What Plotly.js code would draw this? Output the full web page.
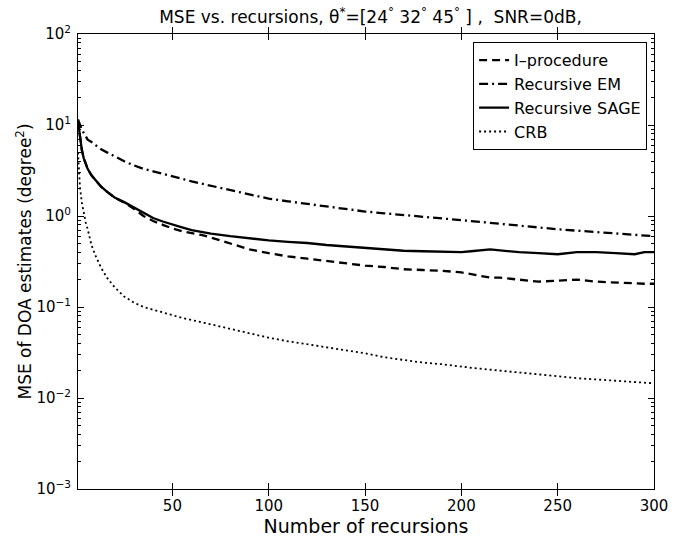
<!DOCTYPE html>
<html>
<head>
<meta charset="utf-8">
<script src="https://cdn.plot.ly/plotly-3.0.1.min.js"></script>
<style>html,body{margin:0;padding:0;background:#fff;}#chart{width:690px;height:538px;}</style>
</head>
<body>
<div id="chart"></div>
<script>
const recursions = [1,2,3,4,5,6,8,10,13,16,20,25,30,35,40,45,50,55,60,65,70,80,90,100,110,120,130,140,150,160,170,180,190,200,205,210,215,220,225,230,240,250,260,270,280,290,295,300];
const iProcedure = [11,7.0,5.3,4.3,3.7,3.3,2.8,2.5,2.1,1.85,1.6,1.4,1.2,1.0,0.88,0.8,0.73,0.68,0.65,0.62,0.58,0.5,0.43,0.39,0.36,0.34,0.32,0.30,0.285,0.275,0.26,0.255,0.25,0.24,0.23,0.22,0.21,0.21,0.205,0.2,0.19,0.195,0.2,0.19,0.185,0.18,0.18,0.18];
const recursiveEM = [11.5,9.8,8.9,8.2,7.4,6.9,6.5,6.0,5.4,5.0,4.5,4.0,3.6,3.3,3.1,2.9,2.72,2.55,2.4,2.27,2.15,1.95,1.72,1.55,1.45,1.36,1.27,1.18,1.12,1.07,1.02,0.98,0.94,0.9,0.88,0.86,0.84,0.82,0.80,0.78,0.74,0.715,0.69,0.665,0.64,0.62,0.61,0.6];
const recursiveSAGE = [11,7.0,5.3,4.3,3.7,3.3,2.8,2.5,2.1,1.85,1.6,1.42,1.25,1.08,0.95,0.87,0.8,0.75,0.7,0.67,0.64,0.6,0.565,0.54,0.52,0.505,0.48,0.465,0.45,0.43,0.415,0.41,0.405,0.40,0.41,0.42,0.43,0.42,0.41,0.40,0.39,0.38,0.40,0.40,0.39,0.38,0.40,0.40];
const crb = [5,2.1,1.4,1.05,0.85,0.72,0.48,0.37,0.27,0.21,0.165,0.13,0.112,0.1,0.093,0.087,0.082,0.076,0.072,0.068,0.064,0.057,0.051,0.046,0.042,0.039,0.036,0.034,0.031,0.028,0.026,0.0245,0.0235,0.022,0.0215,0.021,0.0205,0.020,0.0195,0.019,0.018,0.0172,0.0165,0.016,0.0155,0.015,0.0147,0.0145];
const seriesNames = ['I\u2013procedure','Recursive EM','Recursive SAGE','CRB'];
const yTickVals = [0.001,0.01,0.1,1,10,100];
const yTickText = ['10<sup>\u22123</sup>','10<sup>\u22122</sup>','10<sup>\u22121</sup>','10<sup>0</sup>','10<sup>1</sup>','10<sup>2</sup>'];
const xTickVals = [50,100,150,200,250,300];

// minor log ticks (2..9 within each decade) - axis decoration only
const yMinor = [];
for (let k = -3; k < 2; k++) for (let m = 2; m <= 9; m++) yMinor.push(m * Math.pow(10, k));

const font = 'DejaVu Sans, Liberation Sans, Arial, sans-serif';
const traces = [
  {x: recursions, y: iProcedure, name: seriesNames[0], mode: 'lines', line: {color: '#000', width: 2.3, dash: '8px,5px'}},
  {x: recursions, y: recursiveEM, name: seriesNames[1], mode: 'lines', line: {color: '#000', width: 2.3, dash: '9px,4px,2px,4px'}},
  {x: recursions, y: recursiveSAGE, name: seriesNames[2], mode: 'lines', line: {color: '#000', width: 2.3}},
  {x: recursions, y: crb, name: seriesNames[3], mode: 'lines', line: {color: '#000', width: 1.8, dash: '2px,3px'}},
  // invisible helper so the minor-tick axis is drawn
  {x: [recursions[0]], y: [crb[0]], yaxis: 'y2', mode: 'markers', marker: {opacity: 0}, showlegend: false, hoverinfo: 'skip'}
];
const layout = {
  width: 690, height: 538,
  margin: {l: 78, r: 36, t: 34, b: 49},
  paper_bgcolor: '#fff', plot_bgcolor: '#fff',
  font: {family: font, size: 15, color: '#000'},
  title: {text: 'MSE vs. recursions, \u03b8<sup>*</sup>=[24<sup>\u00b0</sup> 32<sup>\u00b0</sup> 45<sup>\u00b0</sup> ] ,  SNR=0dB,', font: {family: font, size: 17, color: '#000'}, x: 0.537, xanchor: 'center', y: 0.968, yanchor: 'middle'},
  xaxis: {
    range: [1, 300], tickvals: xTickVals, ticks: 'inside', ticklen: 6, tickcolor: '#000',
    showline: true, linecolor: '#000', linewidth: 1, mirror: 'allticks', showgrid: false, zeroline: false,
    tickfont: {size: 15}, ticklabelstandoff: 3,
    title: {text: 'Number of recursions', font: {size: 19}, standoff: 0}
  },
  yaxis: {
    type: 'log', range: [-3, 2], tickvals: yTickVals, ticktext: yTickText, ticks: 'inside', ticklen: 6, tickcolor: '#000',
    showline: true, linecolor: '#000', linewidth: 1, mirror: 'allticks', showgrid: false, zeroline: false,
    tickfont: {size: 15}, ticklabelstandoff: 3,
    title: {text: 'MSE of DOA estimates (degree<sup>2</sup>)', font: {size: 17}, standoff: 0}
  },
  yaxis2: {
    type: 'log', range: [-3, 2], overlaying: 'y', anchor: 'x', side: 'left',
    tickmode: 'array', tickvals: yMinor, ticks: 'inside', ticklen: 3, tickcolor: '#000',
    showticklabels: false, showline: false, mirror: 'ticks', showgrid: false, zeroline: false
  },
  legend: {x: 0.988, xanchor: 'right', y: 0.982, yanchor: 'top', bordercolor: '#000', borderwidth: 1, bgcolor: '#fff', font: {size: 16}, tracegroupgap: 0, itemwidth: 30},
  showlegend: true
};
Plotly.newPlot('chart', traces, layout, {displayModeBar: false, staticPlot: true});
</script>
</body>
</html>
